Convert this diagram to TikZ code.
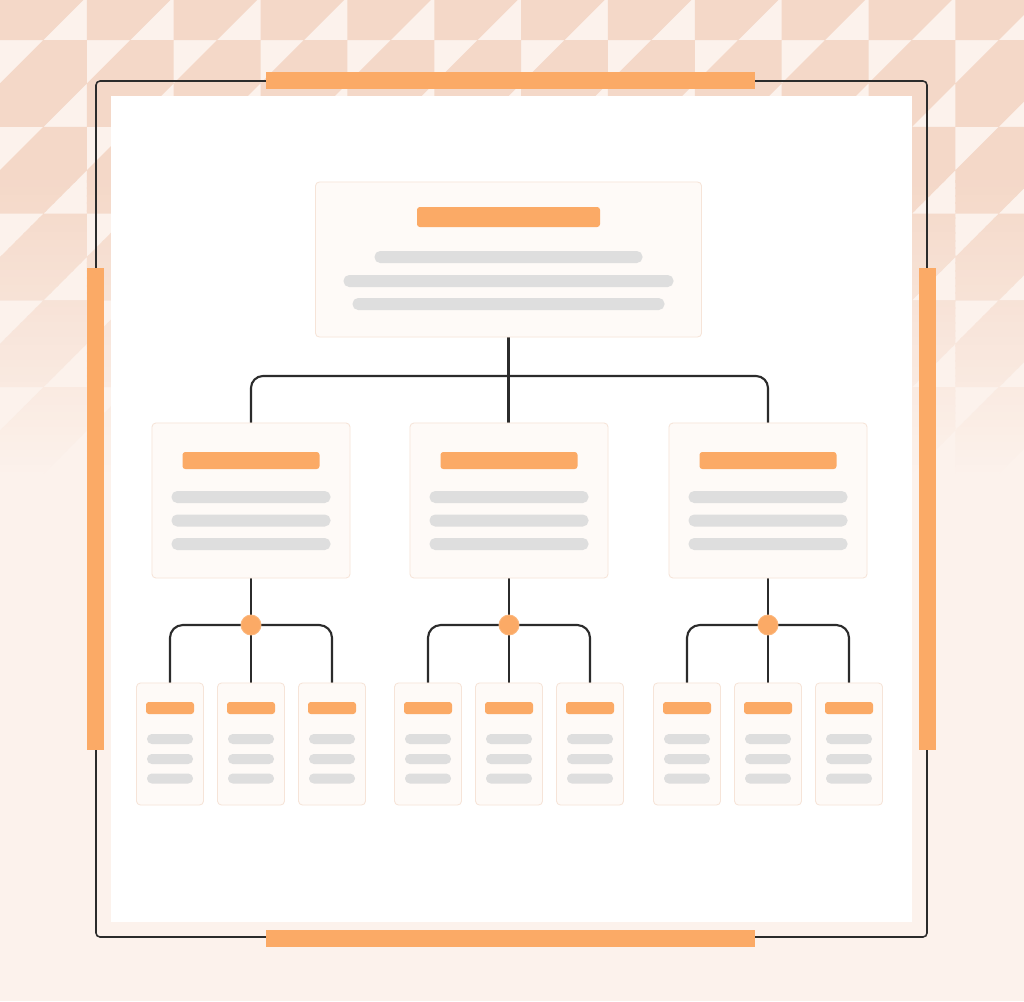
\documentclass[tikz,border=0pt]{standalone}
\pgfdeclarelayer{back}
\pgfdeclarelayer{wires}
\pgfsetlayers{back,wires,main}
\definecolor{bgbase}{HTML}{FCF2EC}
\definecolor{tile}{HTML}{F4D8C8}
\definecolor{accent}{HTML}{FBAA66}
\definecolor{ink}{HTML}{2B2B2B}
\definecolor{cardfill}{HTML}{FEFAF7}
\definecolor{cardline}{HTML}{F6E4D8}
\definecolor{barfill}{HTML}{DEDEDE}
\definecolor{panelfill}{HTML}{FFFFFF}
\tikzset{
 card/.style={draw=cardline, fill=cardfill, line width=0.6pt, rounded corners=0.1cm, inner sep=0pt, outer sep=0pt},
 topcard/.style={card, minimum width=9.65cm, minimum height=3.875cm},
 midcard/.style={card, minimum width=4.95cm, minimum height=3.875cm},
 leafcard/.style={card, minimum width=1.675cm, minimum height=3.05cm},
 wire/.style={draw=ink, line width=1.5pt},
 junction/.style={circle, fill=accent, draw=accent!85!white, line width=0.6pt, minimum size=0.5cm, inner sep=0pt},
 titlebar/.style={fill=accent, rounded corners=0.07cm},
 textbar/.style={fill=barfill, rounded corners=0.14cm},
 smallbar/.style={fill=barfill, rounded corners=0.12cm},
 edgebar/.style={fill=accent},
 frameline/.style={draw=ink, line width=1.1pt, rounded corners=0.1cm},
}
% triangle tiling: even rows / odd rows given as lists
\newcommand\tiles[2]{%
 \foreach \r in {#1} { \foreach \c in {0,...,11} {
   ({\c*86.85},{\r*43.4-3.4}) -- ++(86.85,0) -- ++(-43.4,43.4) -- ++(-43.45,0) -- cycle } }
 \foreach \r in {#2} { \foreach \c in {0,...,11} {
   ({\c*86.85+43.4},{\r*43.4-3.4}) -- ++(43.45,0) -- ++(0,43.4) -- ++(-86.85,0) -- cycle } }}
\newcommand\pill[6]{\fill[#6] ([shift={({#2-(#4)/2},{#3-(#5)/2})}]#1.center) rectangle ++(#4,#5);}
\newcommand\midbars[1]{%
 \pill{#1}{0}{-40}{137}{17}{titlebar}%
 \pill{#1}{0}{-3.5}{159}{12}{textbar}%
 \pill{#1}{0}{20}{159}{12}{textbar}%
 \pill{#1}{0}{43.5}{159}{12}{textbar}}
\newcommand\leafbars[1]{%
 \pill{#1}{0}{-36}{48}{12}{titlebar}%
 \pill{#1}{0}{-5}{46}{10}{smallbar}%
 \pill{#1}{0}{15}{46}{10}{smallbar}%
 \pill{#1}{0}{34.5}{46}{10}{smallbar}}
\begin{document}
\begin{tikzpicture}[x=0.025cm,y=-0.025cm]
\useasboundingbox (0,0) rectangle (1024,1001);
\begin{pgfonlayer}{back}
\fill[bgbase] (0,0) rectangle (1024,1001);
\begin{scope}
 \clip (0,-5) rectangle (1024,182);
 \fill[tile] \tiles{0,2,4}{1,3};
\end{scope}
\foreach \s in {0,...,39}{%
 \pgfmathsetmacro\ya{180+7.5*\s}%
 \pgfmathtruncatemacro\pc{100*(1-(\s+0.5)/40)}%
 \begin{scope}
  \clip (0,\ya) rectangle (1024,\ya+8.5);
  \fill[tile!\pc!bgbase] \tiles{4,6,8,10}{3,5,7,9,11};
 \end{scope}}
\fill[panelfill] (111,96) rectangle (912,922);
\draw[frameline] (96,81) rectangle (927,937);
\fill[edgebar] (266,71.5) rectangle (755,88.5);
\fill[edgebar] (266,929.5) rectangle (755,946.5);
\fill[edgebar] (87,268) rectangle (104,750);
\fill[edgebar] (919,268) rectangle (936,750);
\end{pgfonlayer}

\node[topcard] (top) at (508.5,259.5) {};
\node[midcard] (m1) at (251,500.5) {};
\node[midcard] (m2) at (509,500.5) {};
\node[midcard] (m3) at (768,500.5) {};
\node[leafcard] (l11) at (170,744) {};
\node[leafcard] (l12) at (251,744) {};
\node[leafcard] (l13) at (332,744) {};
\node[leafcard] (l21) at (428,744) {};
\node[leafcard] (l22) at (509,744) {};
\node[leafcard] (l23) at (590,744) {};
\node[leafcard] (l31) at (687,744) {};
\node[leafcard] (l32) at (768,744) {};
\node[leafcard] (l33) at (849,744) {};
\node[junction] (j1) at (251,625) {};
\node[junction] (j2) at (509,625) {};
\node[junction] (j3) at (768,625) {};

\pill{top}{0}{-42.5}{183}{20}{titlebar}
\pill{top}{0}{-2.5}{268}{12}{textbar}
\pill{top}{0}{21.5}{330}{12}{textbar}
\pill{top}{0}{44.5}{312}{12}{textbar}
\midbars{m1}\midbars{m2}\midbars{m3}
\leafbars{l11}\leafbars{l12}\leafbars{l13}
\leafbars{l21}\leafbars{l22}\leafbars{l23}
\leafbars{l31}\leafbars{l32}\leafbars{l33}

\begin{pgfonlayer}{wires}
\coordinate (hub) at (508.5,376);
\draw[wire] (top.south) -- (top.south |- m2.north);
\draw[wire, rounded corners=0.3cm] (m1.north) |- (hub) -| (m3.north);
\draw[wire] (m1.south) -- (j1.center);
\draw[wire] (m2.south) -- (j2.center);
\draw[wire] (m3.south) -- (j3.center);
\draw[wire, rounded corners=0.32cm] (l11.north) |- (j1.center) -| (l13.north);
\draw[wire, rounded corners=0.32cm] (l21.north) |- (j2.center) -| (l23.north);
\draw[wire, rounded corners=0.32cm] (l31.north) |- (j3.center) -| (l33.north);
\draw[wire] (j1.center) -- (l12.north);
\draw[wire] (j2.center) -- (l22.north);
\draw[wire] (j3.center) -- (l32.north);
\end{pgfonlayer}
\end{tikzpicture}
\end{document}
